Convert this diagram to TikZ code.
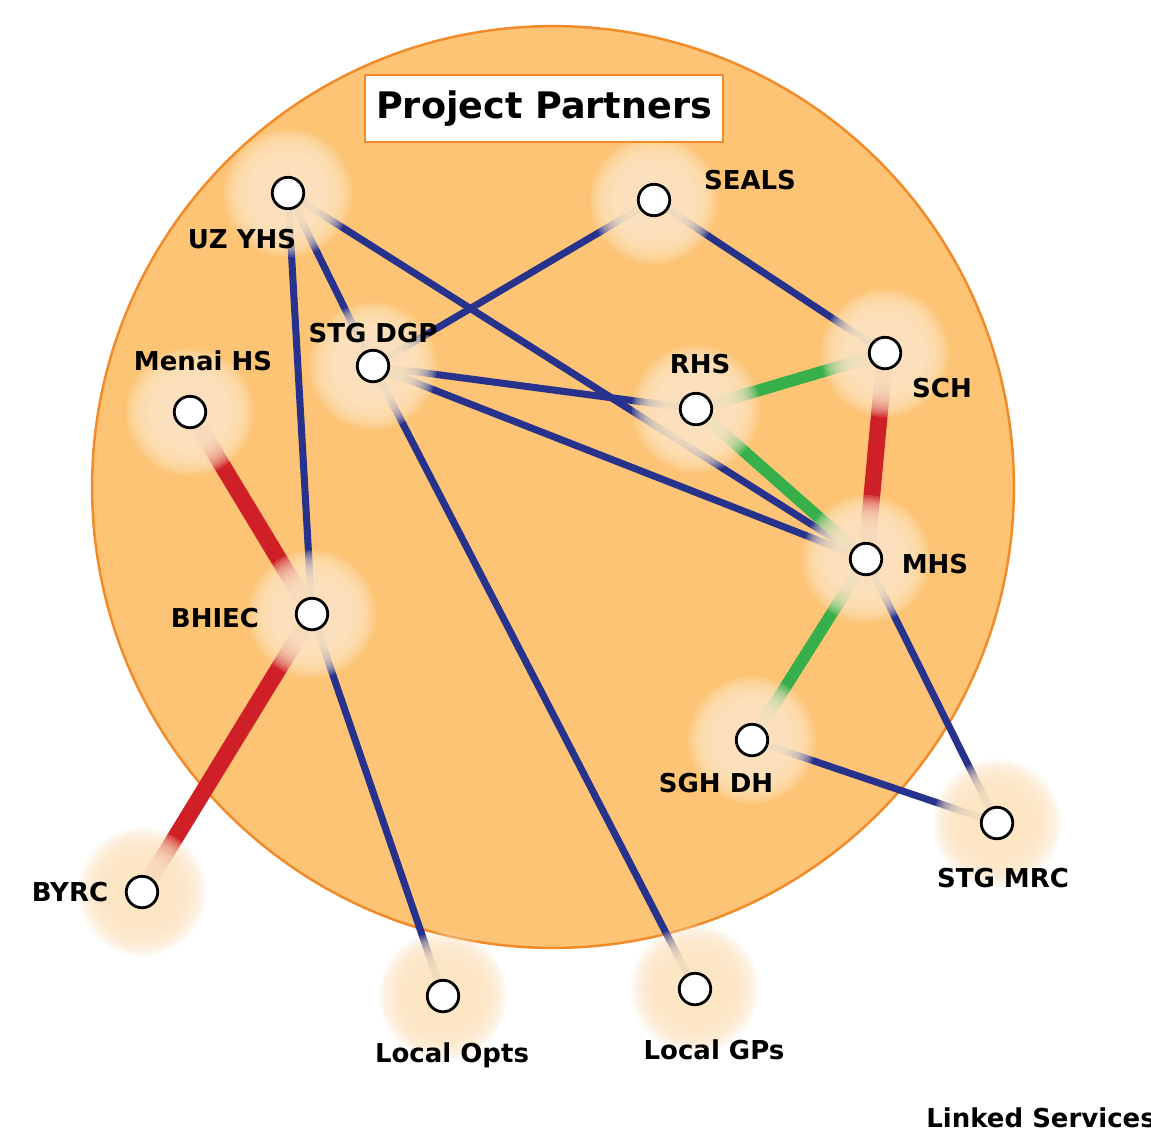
\documentclass[tikz,border=0pt]{standalone}
\usepackage{fontspec}
\setmainfont{DejaVu Sans}

\definecolor{discfill}{RGB}{252,196,116}
\definecolor{discrim}{RGB}{242,138,40}
\definecolor{glowc}{RGB}{253,230,196}
\definecolor{linkblue}{RGB}{38,50,140}
\definecolor{linkred}{RGB}{207,32,39}
\definecolor{linkgreen}{RGB}{55,175,74}

\pgfdeclarelayer{disc}
\pgfdeclarelayer{links}
\pgfdeclarelayer{glow}
\pgfsetlayers{disc,links,glow,main}

\tikzset{
  partner/.style = {circle, draw=black, fill=white, line width=1.6pt, minimum size=0.63cm, inner sep=0pt},
  tag/.style = {font=\fontsize{14.8}{17}\selectfont\bfseries, anchor=base, inner sep=0pt},
  bluelink/.style = {draw=linkblue, line width=4pt},
  redlink/.style = {draw=linkred, line width=9.5pt},
  greenlink/.style = {draw=linkgreen, line width=6.8pt}
}

\begin{document}
\begin{tikzpicture}[x=0.02cm, y=-0.02cm]
\useasboundingbox (0,0) rectangle (1151,1130);
\clip (0,0) rectangle (1151,1130);

\node[draw=discrim, fill=white, line width=1.4pt, minimum width=7.16cm, minimum height=1.34cm,
  font=\fontsize{20.8}{24}\selectfont\bfseries] (title) at (544,108.5) {Project Partners};

\node[partner] (uz) at (288,193) {};
\node[partner] (seals) at (654,200) {};
\node[partner] (dgp) at (373,366) {};
\node[partner] (menai) at (190,412) {};
\node[partner] (rhs) at (696,409) {};
\node[partner] (sch) at (885,353) {};
\node[partner] (mhs) at (866,559) {};
\node[partner] (bhiec) at (312,614) {};
\node[partner] (sgh) at (752,740) {};
\node[partner] (mrc) at (997,823) {};
\node[partner] (byrc) at (142,892) {};
\node[partner] (opts) at (443,996) {};
\node[partner] (gps) at (695,989) {};

\node[tag] (uz-l) at (242,248) {UZ YHS};
\node[tag] (seals-l) at (750,189) {SEALS};
\node[tag] (dgp-l) at (373,342) {STG DGP};
\node[tag] (menai-l) at (203,370) {Menai HS};
\node[tag] (rhs-l) at (700,373) {RHS};
\node[tag] (sch-l) at (942,397) {SCH};
\node[tag] (mhs-l) at (935,573) {MHS};
\node[tag] (bhiec-l) at (215,627) {BHIEC};
\node[tag] (sgh-l) at (716,792) {SGH DH};
\node[tag] (mrc-l) at (1003,887) {STG MRC};
\node[tag] (byrc-l) at (70,901) {BYRC};
\node[tag] (opts-l) at (452,1062) {Local Opts};
\node[tag] (gps-l) at (714,1059) {Local GPs};
\node[tag, anchor=base west] (linked) at (926,1127) {Linked Services};

\begin{pgfonlayer}{disc}
\fill[white] (0,0) rectangle (1151,1130);
\draw[discrim, fill=discfill, line width=1.4pt] (553,487) circle (9.22cm);
\end{pgfonlayer}

\begin{pgfonlayer}{links}
\path[bluelink] (uz) edge (bhiec) (uz) edge (dgp) (uz) edge (mhs)
    (seals) edge (dgp) (seals) edge (sch)
    (dgp) edge (rhs) (dgp) edge (mhs) (dgp) edge (gps)
    (bhiec) edge (opts) (mhs) edge (mrc) (sgh) edge (mrc);
\path[redlink] (menai) edge (bhiec) (bhiec) edge (byrc) (sch) edge (mhs);
\path[greenlink] (rhs) edge (sch) (rhs) edge (mhs) (mhs) edge (sgh);
\end{pgfonlayer}

% soft halo: stacked faint discs
\begin{pgfonlayer}{glow}
\foreach \n in {uz,seals,dgp,menai,rhs,sch,mhs,bhiec,sgh,mrc,byrc,opts,gps}
  \foreach \r in {30,32,...,64}
    \fill[glowc, opacity=0.16] (\n.center) circle [radius=\r];
\end{pgfonlayer}
\end{tikzpicture}
\end{document}
